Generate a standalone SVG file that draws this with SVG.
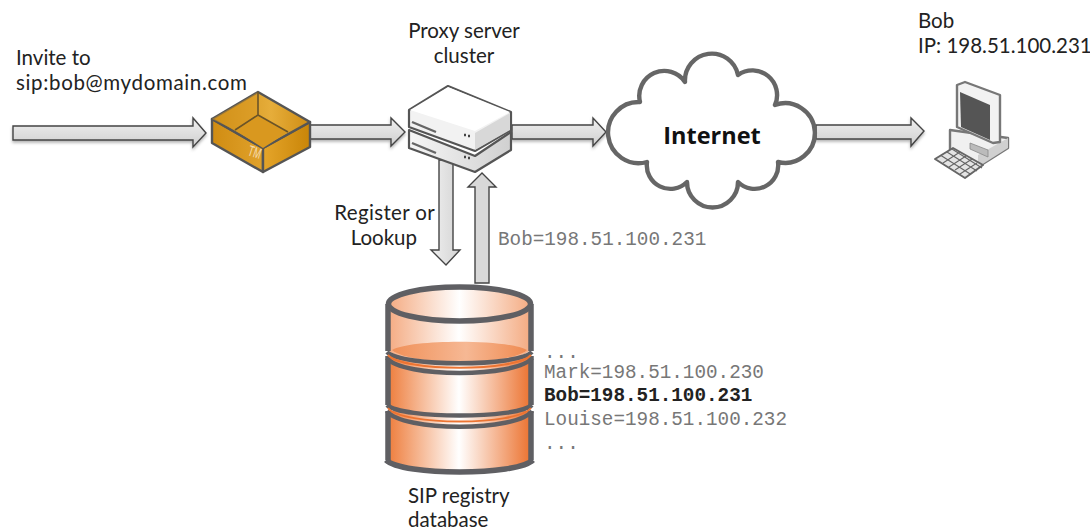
<svg xmlns="http://www.w3.org/2000/svg" width="1090" height="529" viewBox="0 0 1090 529">
<style>
.t{font-family:"Lato","Open Sans","Liberation Sans",sans-serif;font-size:20.5px;fill:#222}
.m{font-family:"Liberation Mono",monospace;font-size:19.3px;fill:#777}
.arrow{stroke:#444;stroke-width:1.4;stroke-linejoin:miter}
.g{stroke:#555;stroke-width:2.2;stroke-linejoin:round}
.db{fill:none;stroke:#5f5f63}
</style>
<defs>
<linearGradient id="ah" x1="0" y1="0" x2="0" y2="1"><stop offset="0" stop-color="#f0f0f0"/><stop offset="1" stop-color="#cfcfcf"/></linearGradient>
<linearGradient id="av" x1="0" y1="0" x2="1" y2="0"><stop offset="0" stop-color="#efefef"/><stop offset="1" stop-color="#d4d4d4"/></linearGradient>
<linearGradient id="bx" x1="0" y1="0" x2="1" y2="0"><stop offset="0" stop-color="#c98a12"/><stop offset=".6" stop-color="#e6ad3a"/><stop offset="1" stop-color="#cf8d14"/></linearGradient>
<linearGradient id="bl" x1="0" y1="0" x2="1" y2="0"><stop offset="0" stop-color="#d08c12"/><stop offset="1" stop-color="#e0a22c"/></linearGradient>
<linearGradient id="br" x1="0" y1="0" x2="1" y2="0"><stop offset="0" stop-color="#e5a52a"/><stop offset="1" stop-color="#c98508"/></linearGradient>
<linearGradient id="or" x1="0" y1="0" x2="1" y2="0"><stop offset="0" stop-color="#ee7d3c"/><stop offset=".5" stop-color="#fff"/><stop offset="1" stop-color="#ec7432"/></linearGradient>
<linearGradient id="orl" x1="0" y1="0" x2="1" y2="0"><stop offset="0" stop-color="#f4ab82"/><stop offset=".5" stop-color="#fff"/><stop offset="1" stop-color="#f4ab82"/></linearGradient>
<linearGradient id="liq" x1="0" y1="0" x2="1" y2="0"><stop offset="0" stop-color="#f09058"/><stop offset=".55" stop-color="#f6b894"/><stop offset="1" stop-color="#ef8a50"/></linearGradient>
<linearGradient id="srv" x1="0" y1="0" x2="1" y2="0"><stop offset="0" stop-color="#f6f6f6"/><stop offset="1" stop-color="#d0d0d0"/></linearGradient>
<filter id="s" x="-10%" y="-30%" width="120%" height="170%"><feDropShadow dx="0" dy="2" stdDeviation="1.5" flood-color="#000" flood-opacity=".3"/></filter>
</defs>

<g id="connectors">
<path class="arrow" fill="url(#ah)" filter="url(#s)" d="M13 126H193V118L206 133L193 147V140H13Z"/>
<path class="arrow" fill="url(#ah)" filter="url(#s)" d="M310 125H391V118L405 132L391 146V139H310Z"/>
<path class="arrow" fill="url(#ah)" filter="url(#s)" d="M512 125H593V118L606 132L593 146V139H512Z"/>
<path class="arrow" fill="url(#ah)" filter="url(#s)" d="M816 125H911V118L924 131L911 146V139H816Z"/>
<path class="arrow" fill="url(#av)" d="M439 160H453V250H460L446 265L431 250H439Z"/>
<path class="arrow" fill="#d8d8d8" d="M475 283V187H468L482 173L496 187H489V283Z"/>
</g>

<g id="box">
<path d="M212 119L263 148V172L212 143Z" fill="url(#bl)" stroke="#555" stroke-width="2.4" stroke-linejoin="round"/>
<path d="M263 148L310 122V147L263 172Z" fill="url(#br)" stroke="#555" stroke-width="2.4" stroke-linejoin="round"/>
<path d="M212 119L258 92L310 122L263 148Z" fill="url(#bx)" stroke="#555" stroke-width="2.4" stroke-linejoin="round"/>
<path d="M235 130L258 115L288 132L263 148Z" fill="#d9981f"/>
<path d="M212 119L258 92V115L235 130Z" fill="#d9981f" opacity=".5"/>
<path d="M258 92V115L235 130M258 115L288 132" fill="none" stroke="#6b5428" stroke-width="1.6"/>
<text transform="translate(247,155) rotate(18) scale(.75,1.25)" font-family="Liberation Sans,sans-serif" font-size="12" fill="#f6ddb0">TM</text>
</g>

<g id="proxy-server">
<path class="g" fill="url(#srv)" d="M409 130L475 156L511 132V150L475 172L409 148Z"/>
<path class="g" fill="#f2f2f2" d="M409 110L448 86L511 112V130L475 151L409 127Z"/>
<path fill="#fff" d="M410 110L448 87L510 112L475 131Z"/>
<path fill="#d8d8d8" d="M475 133L510 113V130L475 150Z"/>
<path d="M412 122L436 132M412 143L436 153" stroke="#666" stroke-width="2.4"/>
<path d="M464 135h2M468 136h2M464 157h2M468 158h2" stroke="#444" stroke-width="2.4"/>
</g>

<g id="internet">
<path d="M685 82A26.8 26.8 0 0 1 738 75A24.7 24.7 0 0 1 775 105A29.8 29.8 0 1 1 778 162A23.6 23.6 0 0 1 738 182A25.5 25.5 0 0 1 687 182A23.6 23.6 0 0 1 647 162A30.6 30.6 0 1 1 640 102A25 25 0 0 1 685 82Z" fill="#fff" stroke="#666" stroke-width="4.4" stroke-linejoin="round"/>
<text x="712" y="144" text-anchor="middle" font-family="Open Sans,Liberation Sans,sans-serif" font-weight="700" font-size="23.5" fill="#111">Internet</text>
</g>

<g id="computer">
<path d="M950 130L1008 138V148L978 167L950 150Z" fill="#f0f0f0" stroke="#777" stroke-width="2.4" stroke-linejoin="round"/>
<path d="M978 167L1008 148V138L978 155Z" fill="#d0d0d0"/>
<path d="M935 159L953 148L983 165L965 178Z" fill="#e4e4e4" stroke="#666" stroke-width="2" stroke-linejoin="round"/>
<path d="M941 155.500L971 174.500M947 152L977 171M952 149L982 168M943 163L960 152M949 167L966 156M955 170L972 159M960 174L977 163" stroke="#666" stroke-width="1.1"/>
<path d="M957 85L965 82L1000 95V142L993 143L957 127Z" fill="#f2f2f2" stroke="#777" stroke-width="2.4" stroke-linejoin="round"/>
<path d="M960 92L990 105V140L961 127Z" fill="#555"/>
<path d="M970 143L988 150V157L970 149Z" fill="#bbb" stroke="#888" stroke-width=".8"/>
</g>

<g id="database">
<path d="M388 411V460C402 476 516 476 530 460V411Z" fill="url(#or)"/>
<path d="M388 355V405C402 419 516 419 530 405V355Z" fill="url(#or)"/>
<path d="M388 304V350C402 367 516 367 530 350V304Z" fill="url(#orl)"/>
<path d="M392 350C410 339 508 339 527 350C510 366 410 366 392 350Z" fill="url(#liq)"/>
<path class="db" d="M388 304V351M531 304V351M388 356V405M531 356V405M388 411V460M531 411V460" stroke-width="5.500"/>
<ellipse class="db" cx="459.500" cy="304" rx="71" ry="17" style="fill:url(#orl)" stroke-width="5.500"/>
<path class="db" d="M387 352C402 367 517 367 532 352M387 358C402 378 517 378 532 358" stroke-width="4.500"/>
<path d="M388 355C402 372 517 372 531 355" fill="none" stroke="#ec7432" stroke-width="2"/>
<path class="db" d="M387 405C402 419 517 419 532 405M387 411C402 432 517 432 532 411" stroke-width="4.500"/>
<path d="M388 408C402 426 517 426 531 408" fill="none" stroke="#ec7432" stroke-width="2"/>
<path class="db" d="M386 460C402 476 517 476 533 460" stroke-width="5.500"/>
</g>

<g id="labels">
<text class="t" x="16" y="65">Invite to</text>
<text class="t" x="16" y="90" letter-spacing=".65">sip:bob@mydomain.com</text>
<text class="t" x="464" y="38" text-anchor="middle">Proxy server</text>
<text class="t" x="464" y="63" text-anchor="middle">cluster</text>
<text class="t" x="918" y="28">Bob</text>
<text class="t" x="918" y="53">IP: 198.51.100.231</text>
<text class="t" x="435" y="220" text-anchor="end" letter-spacing=".35">Register or</text>
<text class="t" x="417" y="245" text-anchor="end">Lookup</text>
<text class="m" x="498" y="245">Bob=198.51.100.231</text>
<text class="m" x="544" y="358">...</text>
<text class="m" x="544" y="378">Mark=198.51.100.230</text>
<text class="m" x="544" y="401" font-weight="700" style="fill:#222">Bob=198.51.100.231</text>
<text class="m" x="544" y="425">Louise=198.51.100.232</text>
<text class="m" x="544" y="449">...</text>
<text class="t" x="408" y="503">SIP registry</text>
<text class="t" x="408" y="527">database</text>
</g>
</svg>
